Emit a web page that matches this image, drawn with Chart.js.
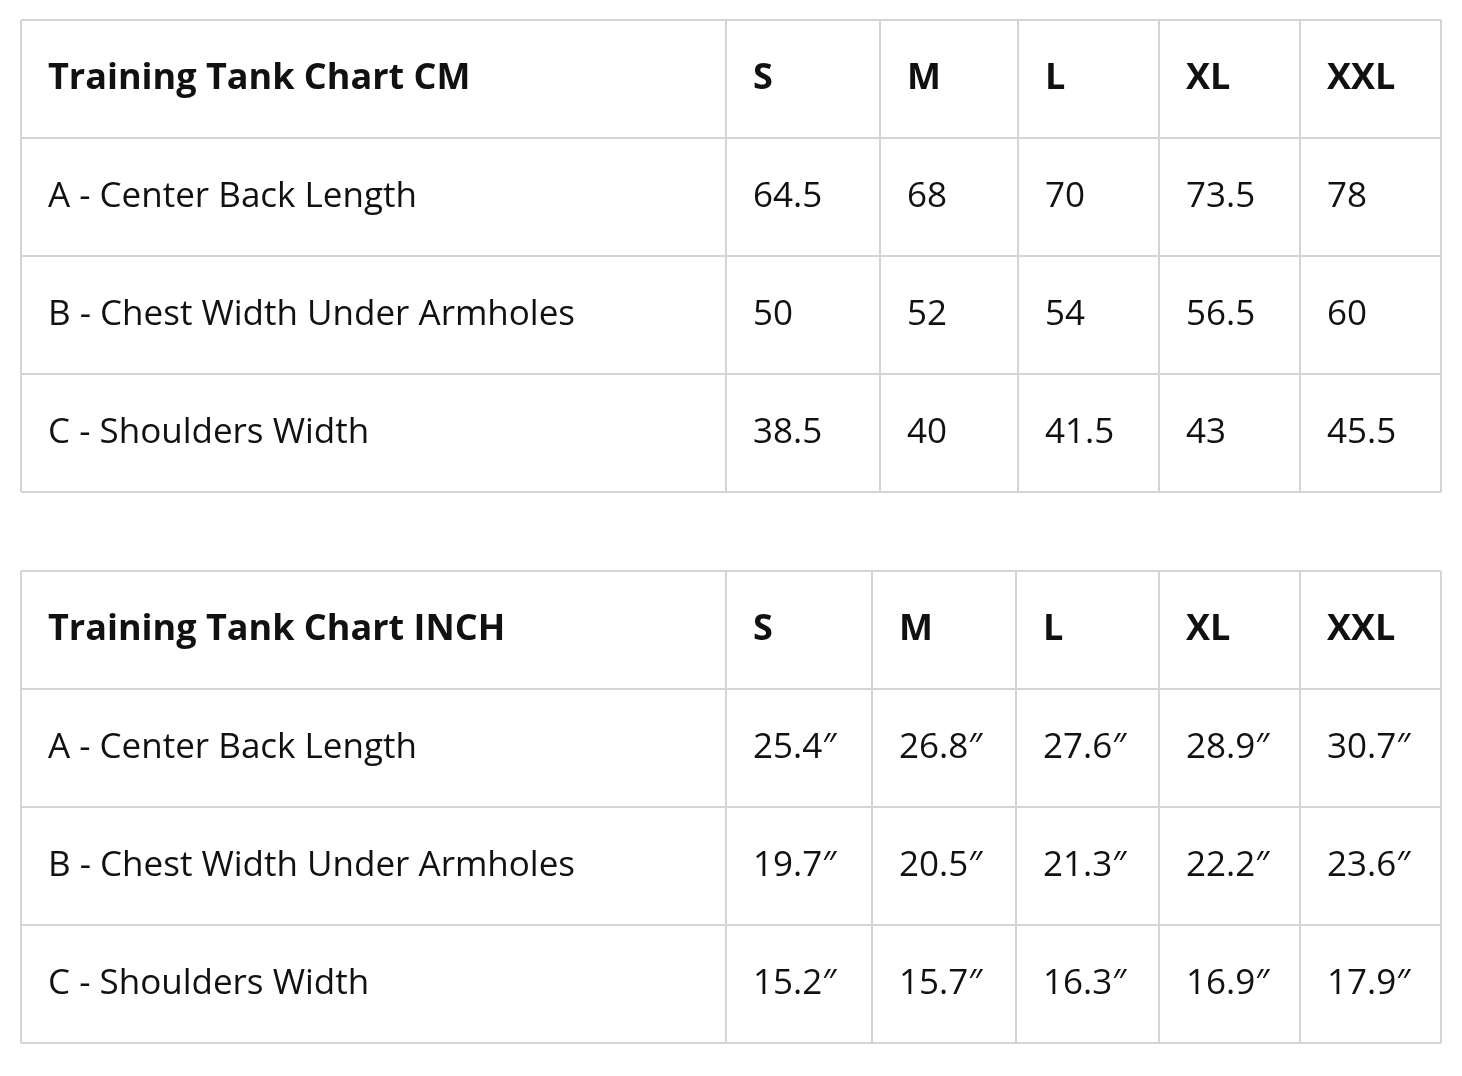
<!DOCTYPE html>
<html>
<head>
<meta charset="utf-8">
<script src="https://cdn.jsdelivr.net/npm/chart.js@4.4.0/dist/chart.umd.min.js"></script>
<style>
  html, body { margin: 0; padding: 0; background: #fff; }
  canvas { display: block; }
</style>
</head>
<body>
<canvas id="sizeChart" width="1462" height="1076"></canvas>
<script>
// Dados das tabelas
const sizes = ["S", "M", "L", "XL", "XXL"];
const measures = ["A - Center Back Length", "B - Chest Width Under Armholes", "C - Shoulders Width"];
const cmTitle = "Training Tank Chart CM";
const inchTitle = "Training Tank Chart INCH";
const cmValues = [
  ["64.5", "68", "70", "73.5", "78"],
  ["50", "52", "54", "56.5", "60"],
  ["38.5", "40", "41.5", "43", "45.5"],
];
const inchValues = [
  ["25.4″", "26.8″", "27.6″", "28.9″", "30.7″"],
  ["19.7″", "20.5″", "21.3″", "22.2″", "23.6″"],
  ["15.2″", "15.7″", "16.3″", "16.9″", "17.9″"],
];

// Layout (unidades da escala = pixels)
const tables = [
  { title: cmTitle, values: cmValues, top: 20, cols: [21, 726, 880, 1018, 1159, 1300, 1441] },
  { title: inchTitle, values: inchValues, top: 571, cols: [21, 726, 872, 1016, 1159, 1300, 1441] },
];
const rowH = 118;

const tablePlugin = {
  id: "tablePlugin",
  afterDraw(chart) {
    const ctx = chart.ctx;
    const xs = chart.scales.x, ys = chart.scales.y;
    const X = (v) => xs.getPixelForValue(v);
    const Y = (v) => ys.getPixelForValue(v);
    ctx.save();
    tables.forEach((t) => {
      const bottom = t.top + rowH * 4;
      ctx.strokeStyle = "#d4d4d4";
      ctx.lineWidth = 2;
      ctx.beginPath();
      for (let r = 0; r <= 4; r++) {
        ctx.moveTo(X(t.cols[0]), Y(t.top + r * rowH));
        ctx.lineTo(X(t.cols[6]), Y(t.top + r * rowH));
      }
      t.cols.forEach((c) => {
        ctx.moveTo(X(c), Y(t.top));
        ctx.lineTo(X(c), Y(bottom));
      });
      ctx.stroke();

      ctx.fillStyle = "#111";
      ctx.textBaseline = "middle";
      ctx.textAlign = "left";
      const rows = [[t.title].concat(sizes)].concat(
        measures.map((m, i) => [m].concat(t.values[i]))
      );
      rows.forEach((row, r) => {
        ctx.font = r === 0 ? "bold 36px 'Open Sans', sans-serif" : "35px 'Open Sans', sans-serif";
        const cy = Y(t.top + r * rowH + rowH / 2);
        row.forEach((txt, c) => {
          const x = c === 0 ? X(48) : X(t.cols[c] + 27);
          ctx.fillText(txt, x, cy);
        });
      });
    });
    ctx.restore();
  },
};

new Chart(document.getElementById("sizeChart"), {
  type: "scatter",
  data: { datasets: [{ data: [] }] },
  options: {
    responsive: false,
    animation: false,
    devicePixelRatio: 1,
    layout: { padding: 0 },
    plugins: { legend: { display: false }, tooltip: { enabled: false } },
    scales: {
      x: { type: "linear", min: 0, max: 1462, display: false },
      y: { type: "linear", min: 0, max: 1076, reverse: true, display: false },
    },
  },
  plugins: [tablePlugin],
});
</script>
</body>
</html>
